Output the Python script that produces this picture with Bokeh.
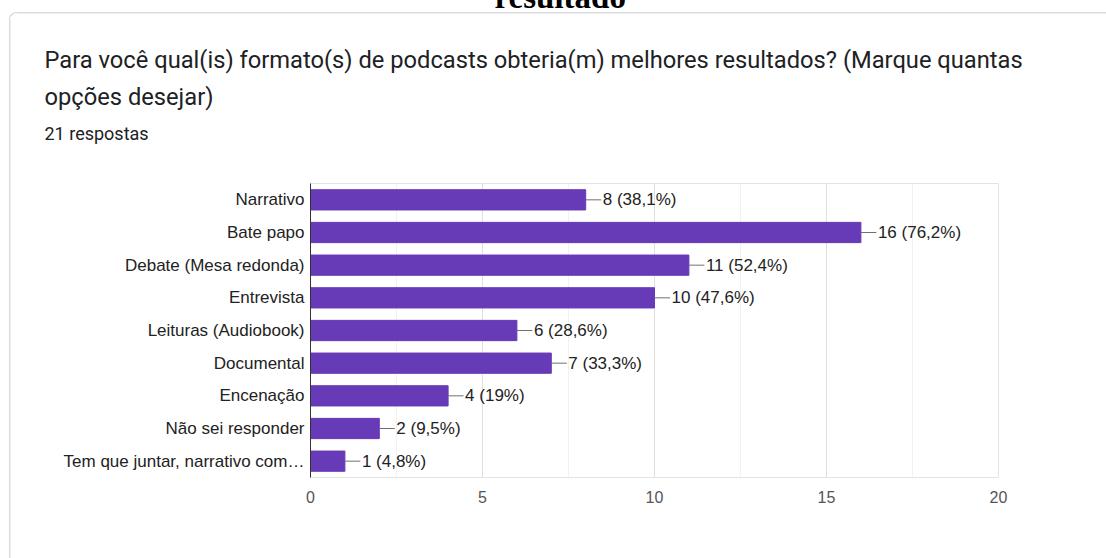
from bokeh.plotting import figure
from bokeh.models import Title, ColumnDataSource, FactorRange, Range1d, SingleIntervalTicker
from bokeh.embed import file_html
from bokeh.resources import INLINE
from bokeh.core.properties import value

categories = ["Narrativo", "Bate papo", "Debate (Mesa redonda)", "Entrevista",
              "Leituras (Audiobook)", "Documental", "Encenação", "Não sei responder",
              "Tem que juntar, narrativo com…"]
counts = [8, 16, 11, 10, 6, 7, 4, 2, 1]
percents = ["38,1%", "76,2%", "52,4%", "47,6%", "28,6%", "33,3%", "19%", "9,5%", "4,8%"]
x_ticks = [0, 5, 10, 15, 20]
page_title = "resultado"
question_1 = "Para você qual(is) formato(s) de podcasts obteria(m) melhores resultados? (Marque quantas"
question_2 = "opções desejar)"
responses = "21 respostas"

labels = [f"{c} ({p})" for c, p in zip(counts, percents)]
leader_end = [c + 0.45 for c in counts]
src = ColumnDataSource(dict(cat=categories, n=counts, lab=labels, lend=leader_end))

W, H = 1106, 558
FL, FR, FB = 310, 108, 81

p = figure(width=W, height=H, output_backend="svg", toolbar_location=None, title=None,
           y_range=FactorRange(*reversed(categories)), x_range=Range1d(x_ticks[0], x_ticks[-1]),
           min_border_left=FL, min_border_right=FR, min_border_top=0, min_border_bottom=FB)
p.background_fill_color = "white"
p.border_fill_color = None
p.outline_line_color = "#e3e3e3"

card = "#dadce0"
p.styles = {
    "background": (
        f"radial-gradient(circle at 8.5px 8.5px, transparent 7.4px, {card} 7.8px, {card} 8.6px, transparent 9px) 9px 12px / 9px 9px no-repeat, "
        f"linear-gradient({card}, {card}) 9px 20px / 1.5px 700px no-repeat, "
        f"linear-gradient({card}, {card}) 17px 12px / 1300px 1.5px no-repeat, white"
    ),
    "overflow": "hidden",
}

p.hbar(y="cat", right="n", height=0.62, source=src, fill_color="#673ab7", line_color="#673ab7")
p.segment(x0="n", y0="cat", x1="lend", y1="cat", source=src, line_color="#707070", line_width=1)
p.text(x="n", y="cat", text="lab", source=src, x_offset=17, text_baseline="middle",
       text_font=value("Liberation Sans"), text_font_size="17px", text_color="#222222")

p.xaxis.ticker = SingleIntervalTicker(interval=5, num_minor_ticks=2)
p.xaxis.axis_line_color = None
p.xaxis.major_tick_line_color = None
p.xaxis.minor_tick_line_color = None
p.xaxis.major_label_text_font = "Liberation Sans"
p.xaxis.major_label_text_font_size = "16px"
p.xaxis.major_label_text_color = "#555555"
p.xaxis.major_label_standoff = 7

p.yaxis.axis_line_color = "#333333"
p.yaxis.major_tick_line_color = None
p.yaxis.minor_tick_line_color = None
p.yaxis.major_label_text_font = "Liberation Sans"
p.yaxis.major_label_text_font_size = "17px"
p.yaxis.major_label_text_color = "#222222"
p.yaxis.major_label_standoff = 0

p.ygrid.grid_line_color = None
p.xgrid.grid_line_color = "#e0e0e0"
p.xgrid.minor_grid_line_color = "#f1f1f1"

def head(text, size, standoff, align_v="bottom", offset=-266, font="Roboto", style="normal", color="#202124"):
    return Title(text=text, align="left", vertical_align=align_v, offset=offset, standoff=standoff,
                 text_font=font, text_font_size=size, text_font_style=style, text_color=color)

# stacked above the frame: the first one added sits closest to the frame
p.add_layout(head(" ", "10px", 20), "above")
p.add_layout(head(responses, "18px", 13), "above")
p.add_layout(head(question_2, "23.7px", 7), "above")
p.add_layout(head(question_1, "23.7px", 7), "above")
p.add_layout(head(" ", "10px", 27), "above")
p.add_layout(head(page_title, "33px", -44, align_v="top", offset=184, font="Liberation Serif",
                  style="bold", color="#000000"), "above")

open("out.html", "w").write(file_html(p, INLINE))
